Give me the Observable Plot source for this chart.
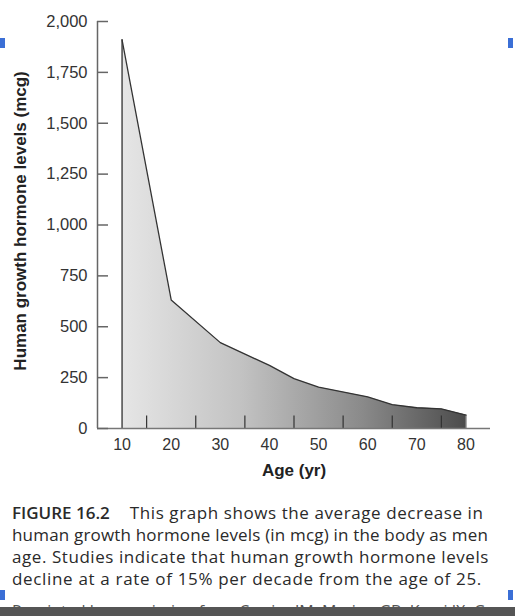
<!DOCTYPE html>
<html>
<head>
<meta charset="utf-8">
<script src="https://cdn.jsdelivr.net/npm/d3@7"></script>
<script src="https://cdn.jsdelivr.net/npm/@observablehq/plot@0.6"></script>
<style>
  html, body { margin: 0; padding: 0; background: #fff; }
  body { width: 515px; height: 616px; position: relative; overflow: hidden; }
  #chart { position: absolute; left: 0; top: 0; }
  #caption { position: absolute; left: 12px; top: 502px; width: 500px; white-space: nowrap;
    font-family: "Open Sans", Lato, sans-serif; font-size: 17px; line-height: 22px; color: #2a2a2a; }
  #caption span.line { display: inline-block; }
  #caption b { font-weight: 600; margin-right: 20px; letter-spacing: 0; }
  #cut { position: absolute; left: 12px; top: 600px; font-family: "Open Sans", sans-serif; font-size: 16px; color: #555; white-space: nowrap; }
  #bar { position: absolute; left: 0; top: 607px; width: 515px; height: 9px; background: #555; }
  .blue { position: absolute; width: 5px; height: 10px; background: #3b6fd6; }
</style>
</head>
<body>
<div id="chart"></div>
<div id="caption"><span class="line" data-w="478"><b>FIGURE 16.2</b>This graph shows the average decrease in</span><br><span class="line" data-w="476">human growth hormone levels (in mcg) in the body as men</span><br><span class="line" data-w="477">age. Studies indicate that human growth hormone levels</span><br><span class="line" data-w="470">decline at a rate of 15% per decade from the age of 25.</span></div>
<div id="cut">Reprinted by permission from Carrier JM, Marion GB, Kovri JX. Growth</div>
<div id="bar"></div>
<div class="blue" style="left:0;top:38px"></div>
<div class="blue" style="left:508px;top:38px"></div>
<div class="blue" style="left:0;top:590px"></div>
<div class="blue" style="left:508px;top:590px"></div>
<script>
const ages = [10, 20, 30, 40, 45, 50, 60, 65, 70, 75, 80];
const levels = [1910, 632, 422, 310, 245, 203, 155, 117, 102, 96, 66];
const yTicks = [0, 250, 500, 750, 1000, 1250, 1500, 1750, 2000];
const xLabelTicks = [10, 20, 30, 40, 50, 60, 70, 80];
const xMinorTicks = [15, 25, 35, 45, 55, 65, 75];

const data = ages.map((a, i) => ({age: a, level: levels[i]}));
const first = data[0], last = data[data.length - 1];

const gradientDefs = () => {
  const svgNS = "http://www.w3.org/2000/svg";
  const defs = document.createElementNS(svgNS, "defs");
  defs.innerHTML = `<linearGradient id="hgh-grad" x1="0" x2="1" y1="0" y2="0">
    <stop offset="0%" stop-color="#e6e6e6"/>
    <stop offset="35%" stop-color="#c2c2c2"/>
    <stop offset="70%" stop-color="#8a8a8a"/>
    <stop offset="100%" stop-color="#4c4c4c"/>
  </linearGradient>`;
  return defs;
};

const chart = Plot.plot({
  width: 515,
  height: 480,
  marginLeft: 97,
  marginRight: 25,
  marginTop: 21,
  marginBottom: 52,
  style: {fontFamily: "'Liberation Sans', Arial, sans-serif", fontSize: "16px", color: "#333", background: "#fff"},
  x: {domain: [5, 85]},
  y: {domain: [0, 2000]},
  marks: [
    gradientDefs,
    Plot.areaY(data, {x: "age", y: "level", fill: "url(#hgh-grad)"}),
    Plot.line(data, {x: "age", y: "level", stroke: "#333", strokeWidth: 1.3}),
    Plot.ruleX([first], {x: "age", y1: 0, y2: "level", stroke: "#333", strokeWidth: 1.3}),
    Plot.ruleX([last], {x: "age", y1: 0, y2: "level", stroke: "#444", strokeWidth: 1}),
    Plot.ruleX(xMinorTicks, {x: d => d, y1: 0, y2: 62, stroke: "#333", strokeWidth: 1.2}),
    Plot.ruleX([5], {y1: 0, y2: 2000, stroke: "#666", strokeWidth: 1.5}),
    Plot.ruleY([0], {x1: 5, x2: 85, stroke: "#777", strokeWidth: 1.5}),
    Plot.axisY({ticks: yTicks, anchor: "left", tickSize: -11, tickPadding: 21, stroke: "#666", strokeWidth: 1.5,
      tickFormat: d3.format(","), label: null, fill: "#333", fontSize: 16.5}),
    Plot.axisX({ticks: xLabelTicks, anchor: "bottom", tickSize: 0, tickPadding: 10, label: null, fill: "#333", fontSize: 16}),
    Plot.text(["Age (yr)"], {x: 45, frameAnchor: "bottom", dy: 47, fontWeight: "bold", fontSize: 17, fill: "#222"}),
    Plot.text(["Human growth hormone levels (mcg)"], {frameAnchor: "left", dx: -77, y: 1020, rotate: -90, textAnchor: "middle", fontWeight: "bold", fontSize: 17, fill: "#222"})
  ]
});
document.getElementById("chart").appendChild(chart);

// stretch each caption line to the width it has in the reference
document.querySelectorAll("#caption span.line").forEach(el => {
  const target = +el.dataset.w;
  const w = el.getBoundingClientRect().width;
  const n = el.textContent.length;
  el.style.letterSpacing = ((target - w) / n).toFixed(3) + "px";
});
</script>
</body>
</html>
